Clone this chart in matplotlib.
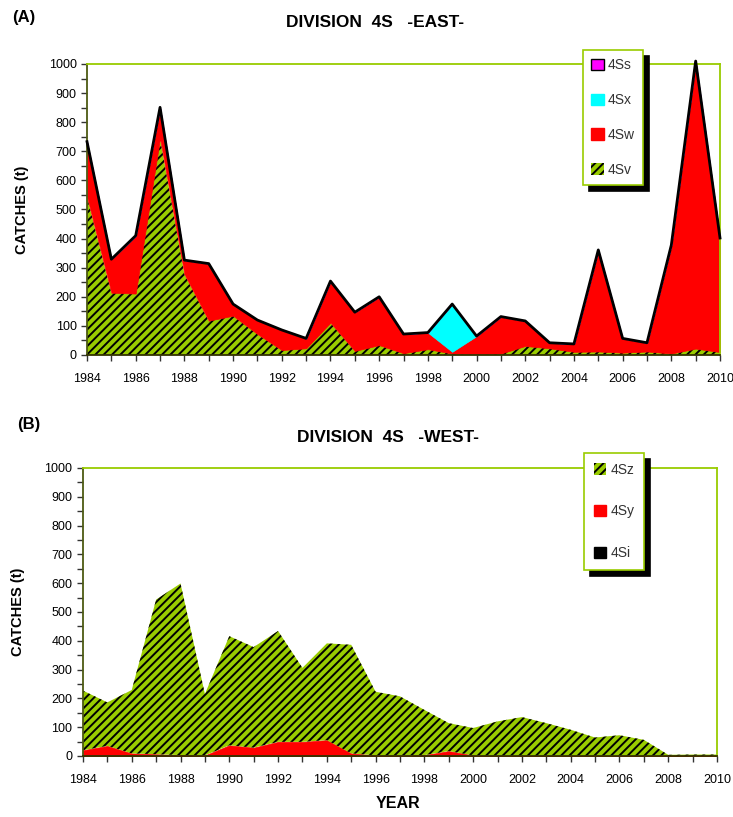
import numpy as np
import matplotlib
matplotlib.use("Agg")
import matplotlib.pyplot as plt
from matplotlib.patches import Patch
from matplotlib.ticker import MultipleLocator

plt.rcParams['font.family'] = ['Liberation Sans Narrow', 'Liberation Sans', 'DejaVu Sans']
plt.rcParams['hatch.linewidth'] = 1.4

# Data (t)
years = list(range(1984, 2011))

# Division 4S east
v_4sv = [544, 214, 211, 745, 278, 118, 135, 72, 17, 23, 111, 14, 34, 6, 20, 5, 3, 5, 31, 23, 11, 12, 8, 12, 5, 22, 10]
w_4sw = [189, 115, 199, 106, 48, 196, 40, 48, 69, 34, 143, 133, 166, 66, 57, 6, 62, 127, 86, 19, 27, 349, 49, 30, 373, 988, 392]
x_4sx = [0, 0, 0, 0, 0, 0, 0, 0, 0, 0, 0, 0, 0, 0, 0, 164, 0, 0, 0, 0, 0, 0, 0, 0, 0, 0, 0]
s_4ss = [0] * 27

# Division 4S west
i_4si = [0] * 27
y_4sy = [20, 35, 9, 6, 3, 2, 37, 29, 49, 49, 55, 9, 2, 2, 3, 17, 2, 1, 1, 1, 1, 1, 1, 1, 0, 0, 0]
z_4sz = [207, 151, 220, 537, 596, 213, 379, 349, 385, 257, 336, 377, 221, 205, 157, 97, 95, 119, 134, 113, 90, 63, 71, 55, 4, 5, 5]

GREEN = '#99cc00'
RED = '#ff0000'
CYAN = '#00ffff'
MAGENTA = '#ff00ff'
HATCH = '////'

fig = plt.figure(figsize=(7.33, 8.17), dpi=100)
ax1 = fig.add_axes([0.1187, 0.5655, 0.8636, 0.3562])
ax2 = fig.add_axes([0.1132, 0.0747, 0.865, 0.3525])


def stack(ax, series, outline):
    # series: list of (values, color, hatched) from bottom to top
    base = np.zeros(len(years))
    for vals, col, hatched in series:
        top = base + np.array(vals)
        if hatched:
            ax.fill_between(years, base, top, facecolor=col, edgecolor='black',
                            hatch=HATCH, linewidth=0, clip_on=False, zorder=2)
        else:
            ax.fill_between(years, base, top, facecolor=col, edgecolor=col,
                            linewidth=0.5, clip_on=False, zorder=2)
        base = top
    if outline:
        ax.plot(years, base, color='black', lw=2, clip_on=False, zorder=3)


def style(ax):
    ax.set_xlim(1984, 2010)
    ax.set_ylim(0, 1000)
    ax.xaxis.set_major_locator(MultipleLocator(2))
    ax.xaxis.set_minor_locator(MultipleLocator(1))
    ax.yaxis.set_major_locator(MultipleLocator(100))
    ax.yaxis.set_minor_locator(MultipleLocator(50))
    ax.tick_params(which='both', direction='out', length=4, width=1, color='#333333',
                   labelsize=9)
    ax.tick_params(axis='x', pad=9)
    ax.spines['top'].set_color(GREEN)
    ax.spines['right'].set_color(GREEN)
    ax.spines['left'].set_color('#4d5a12')
    ax.spines['bottom'].set_color('#333300')
    for sp in ax.spines.values():
        sp.set_linewidth(1.3)
    ax.set_ylabel('CATCHES (t)', fontsize=10.5, fontweight='bold', labelpad=14)


stack(ax1, [(v_4sv, GREEN, True), (w_4sw, RED, False),
            (x_4sx, CYAN, False), (s_4ss, MAGENTA, False)], outline=True)
style(ax1)

stack(ax2, [(i_4si, 'black', False), (y_4sy, RED, False),
            (z_4sz, GREEN, True)], outline=False)
style(ax2)

fig.text(0.016, 0.978, '(A)', fontsize=12, fontweight='bold', va='center')
fig.text(0.512, 0.973, 'DIVISION  4S   -EAST-', fontsize=12.5, fontweight='bold',
         ha='center', va='center')
fig.text(0.024, 0.48, '(B)', fontsize=12, fontweight='bold', va='center')
fig.text(0.529, 0.465, 'DIVISION  4S   -WEST-', fontsize=12.5, fontweight='bold',
         ha='center', va='center')
fig.text(0.543, 0.017, 'YEAR', fontsize=11.5, fontweight='bold', ha='center', va='center')

shadow = {'color': 'black', 'alpha': 1, 'ox': 4, 'oy': -4}

h1 = [Patch(facecolor=MAGENTA, edgecolor='black', lw=1),
      Patch(facecolor=CYAN, edgecolor=CYAN),
      Patch(facecolor=RED, edgecolor=RED),
      Patch(facecolor=GREEN, edgecolor='black', lw=0, hatch=HATCH)]
leg1 = fig.legend(h1, ['4Ss', '4Sx', '4Sw', '4Sv'], loc='upper left',
                  bbox_to_anchor=(583 / 733, 1 - 50 / 817), borderaxespad=0,
                  fancybox=False, shadow=shadow, framealpha=1, edgecolor=GREEN,
                  handlelength=0.9, handleheight=0.9, handletextpad=0.3,
                  labelspacing=1.5, borderpad=0.6, fontsize=10, labelcolor='#333333')
leg1.get_frame().set_linewidth(1.2)

h2 = [Patch(facecolor=GREEN, edgecolor='black', lw=0, hatch=HATCH),
      Patch(facecolor=RED, edgecolor=RED),
      Patch(facecolor='black', edgecolor='black')]
leg2 = fig.legend(h2, ['4Sz', '4Sy', '4Si'], loc='upper left',
                  bbox_to_anchor=(584 / 733, 1 - 453 / 817), borderaxespad=0,
                  fancybox=False, shadow=shadow, framealpha=1, edgecolor=GREEN,
                  handlelength=0.9, handleheight=0.9, handletextpad=0.3,
                  labelspacing=2.0, borderpad=0.7, fontsize=10, labelcolor='#333333')
leg2.get_frame().set_linewidth(1.2)

fig.savefig('out.png', dpi=100)
